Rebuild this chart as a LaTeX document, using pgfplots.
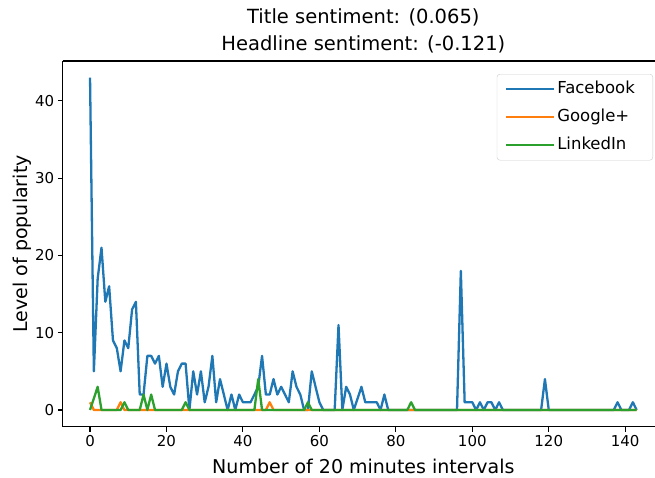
\documentclass[border=0pt]{standalone}
\usepackage{fontspec}
\setmainfont{DejaVu Sans}
\usepackage{pgfplots}
\pgfplotsset{compat=1.18}

\definecolor{fbblue}{HTML}{1F77B4}
\definecolor{gporange}{HTML}{FF7F0E}
\definecolor{ligreen}{HTML}{2CA02C}

\begin{document}
\begin{tikzpicture}
\begin{axis}[
    scale only axis,
    width=601.3pt, height=365.6pt,
    xmin=-7.15, xmax=150.15,
    ymin=-2.15, ymax=45.15,
    separate axis lines,
    axis x line=box, axis y line=left,
    axis line style={-, line width=1.1pt},
    xtick={0,20,...,140},
    ytick={0,10,...,40},
    tick align=outside,
    xtick pos=bottom, ytick pos=left,
    major tick length=4.9pt,
    every tick/.style={black, line width=1.1pt},
    /pgf/number format/assume math mode=true,
    tick label style={font=\fontsize{15}{18}\selectfont},
    title={Title sentiment: (0.065)\\Headline sentiment: (-0.121)},
    title style={align=center, font=\fontsize{19.5}{27}\selectfont,
        at={(rel axis cs:0.5,1)}, anchor=south, yshift=-2pt},
    xlabel={Number of 20 minutes intervals},
    ylabel={Level of popularity},
    label style={font=\fontsize{19}{22}\selectfont},
    xlabel style={at={(rel axis cs:0.5,0)}, anchor=center, yshift=-39.4pt},
    ylabel style={at={(rel axis cs:0,0.5)}, anchor=center, rotate=0, yshift=40.7pt},
    legend style={at={(rel axis cs:1,1)}, anchor=north east,
        xshift=-11pt, yshift=-13pt,
        draw=black!20, rounded corners=3pt,
        fill=white, fill opacity=0.8, text opacity=1,
        font=\fontsize{16.5}{20}\selectfont,
        inner xsep=8pt, inner ysep=5pt, row sep=8pt,
        nodes={text height=12pt, text depth=4pt, inner ysep=2pt}},
    legend cell align=left,
    legend image code/.code={
        \draw[#1, line width=2.3pt] (0pt,0pt) -- (34pt,0pt);
        \path (0pt,0pt) -- (48pt,0pt);},
]
\coordinate (bl) at (rel axis cs:0,0);

% Facebook
\addplot[color=fbblue, line width=2.3pt, line join=round, mark=none] coordinates {
(0,43)(1,5)(2,17)(3,21)(4,14)(5,16)(6,9)(7,8)(8,5)(9,9)
(10,8)(11,13)(12,14)(13,2)(14,2)(15,7)(16,7)(17,6)(18,7)(19,3)
(20,6)(21,3)(22,2)(23,5)(24,6)(25,6)(26,0)(27,5)(28,2)(29,5)
(30,1)(31,3)(32,7)(33,1)(34,4)(35,2)(36,0)(37,2)(38,0)(39,2)
(40,1)(41,1)(42,1)(43,2)(44,3)(45,7)(46,2)(47,2)(48,4)(49,2)
(50,3)(51,2)(52,1)(53,5)(54,3)(55,2)(56,0)(57,0)(58,5)(59,3)
(60,1)(61,0)(62,0)(63,0)(64,0)(65,11)(66,0)(67,3)(68,2)(69,0)
(70,1.5)(71,3)(72,1)(73,1)(74,1)(75,1)(76,0)(77,2)(78,0)(79,0)
(80,0)(81,0)(82,0)(83,0)(84,0)(85,0)(86,0)(87,0)(88,0)(89,0)
(90,0)(91,0)(92,0)(93,0)(94,0)(95,0)(96,0)(97,18)(98,1)(99,1)
(100,1)(101,0)(102,1)(103,0)(104,1)(105,1)(106,0)(107,1)(108,0)(109,0)
(110,0)(111,0)(112,0)(113,0)(114,0)(115,0)(116,0)(117,0)(118,0)(119,4)
(120,0)(121,0)(122,0)(123,0)(124,0)(125,0)(126,0)(127,0)(128,0)(129,0)
(130,0)(131,0)(132,0)(133,0)(134,0)(135,0)(136,0)(137,0)(138,1)(139,0)
(140,0)(141,0)(142,1)(143,0)
};
\addlegendentry{Facebook\rule{8pt}{0pt}}

% Google+
\addplot[color=gporange, line width=2.3pt, line join=round, mark=none] coordinates {
(0,1)(1,0)(7,0)(8,1)(9,0)(46,0)(47,1)(48,0)(143,0)
};
\addlegendentry{Google+}

% LinkedIn
\addplot[color=ligreen, line width=2.3pt, line join=round, mark=none] coordinates {
(0,0)(1,1.5)(2,3)(3,0)(8,0)(9,1)(10,0)(13,0)(14,2)(15,0)(16,2)(17,0)
(24,0)(25,1)(26,0)(43,0)(44,4)(45,0)(56,0)(57,1)(58,0)(83,0)(84,1)(85,0)(143,0)
};
\addlegendentry{LinkedIn}
\end{axis}
\pgfresetboundingbox
\useasboundingbox ([xshift=-62.7pt, yshift=-50.4pt]bl) rectangle ++(655pt,477pt);
\end{tikzpicture}
\end{document}
